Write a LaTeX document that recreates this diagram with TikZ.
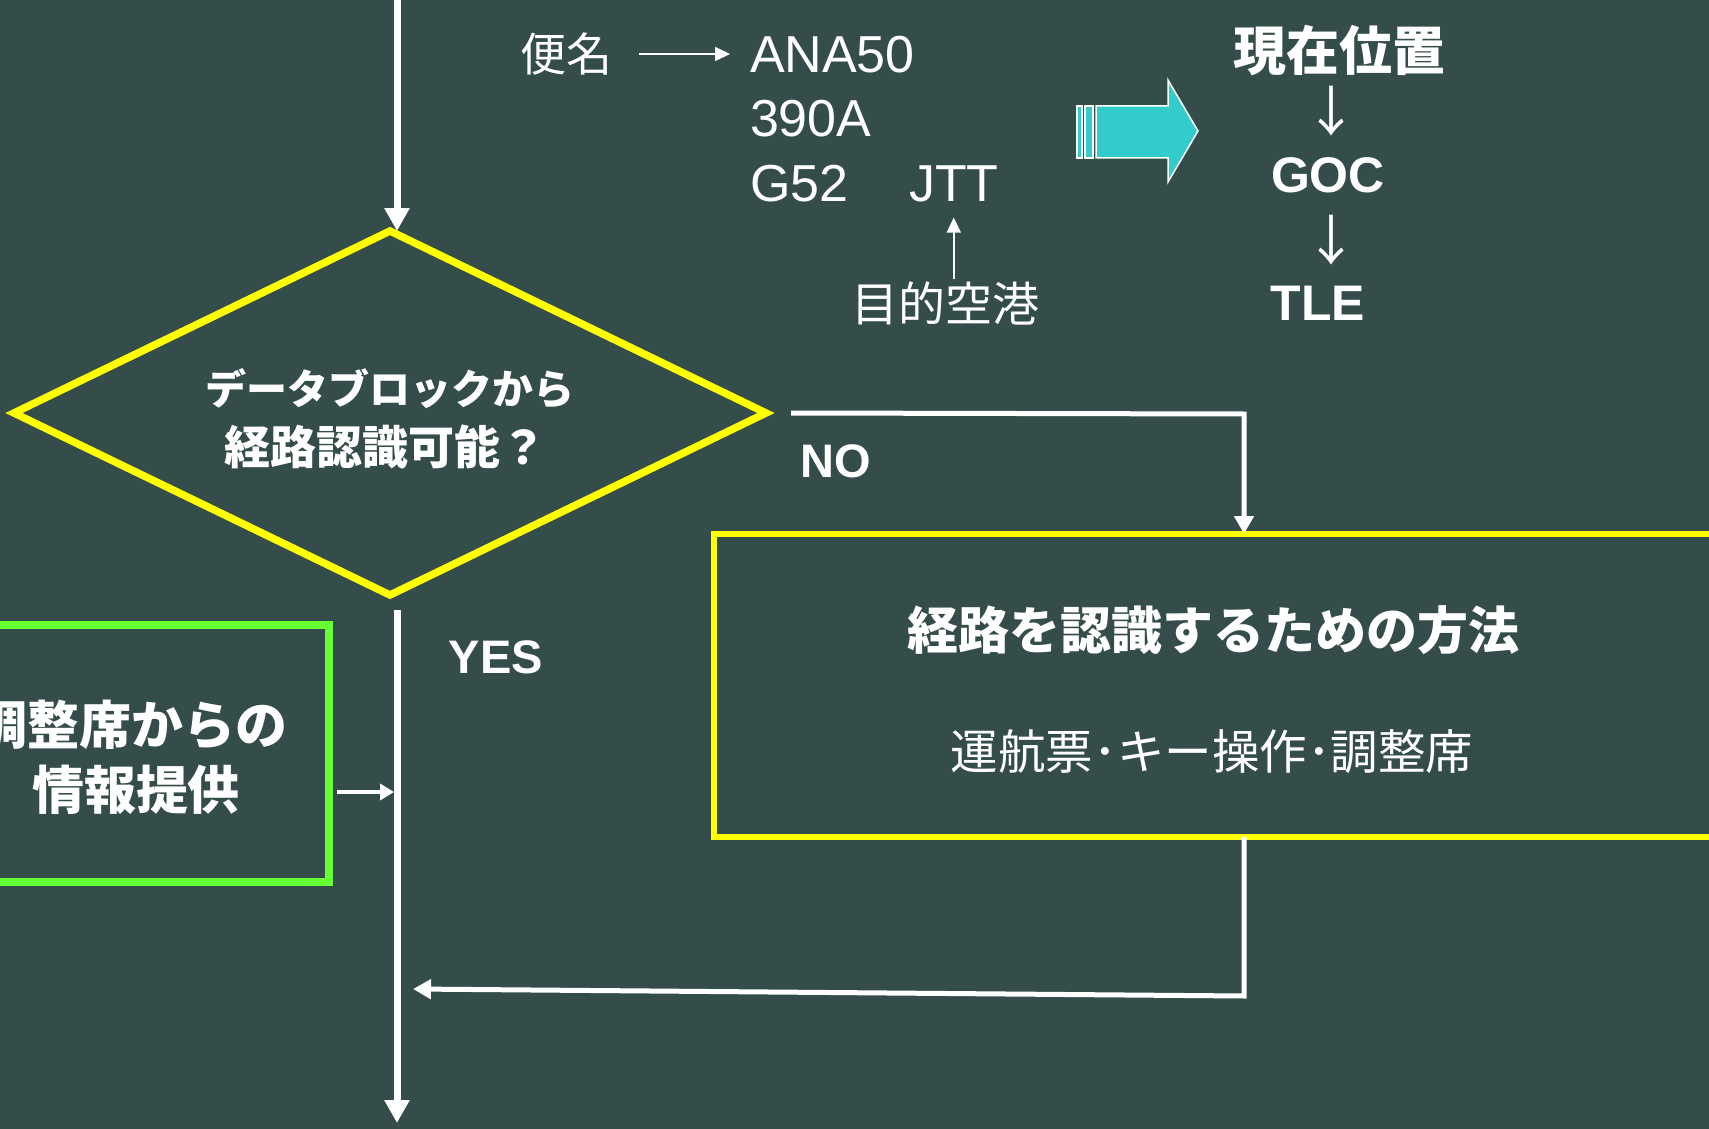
\documentclass[tikz,border=0pt]{standalone}
\usepackage{fontspec}
\setmainfont{Liberation Sans}
\newfontfamily\jp{Noto Sans CJK JP}
\usetikzlibrary{arrows.meta,shapes.geometric}
\definecolor{bg}{RGB}{52,77,74}
\definecolor{yel}{RGB}{255,255,0}
\definecolor{grn}{RGB}{102,255,51}
\definecolor{cyn}{RGB}{51,204,204}
\newcommand\fsz[1]{\fontsize{#1}{#1}\selectfont}
\begin{document}
\begin{tikzpicture}[x=1pt,y=-1pt,
  txt/.style={text=white,inner sep=0pt,outer sep=0pt},
  mainln/.style={draw=white,line width=7pt,-{Triangle[length=23pt,width=24pt]}},
  conn/.style={draw=white,line width=5pt,line join=miter,-{Triangle[length=18pt,width=19pt]}},
  gconn/.style={draw=white,line width=4pt,-{Triangle[length=14pt,width=16pt]}},
  thinarr/.style={draw=white,line width=1.6pt,-{Triangle[length=15pt,width=14pt]}},
  ybox/.style={draw=yel,line width=6.5pt,rectangle,inner sep=0pt,outer sep=0pt},
  gbox/.style={draw=grn,line width=8pt,rectangle,inner sep=0pt,outer sep=0pt},
  dia/.style={diamond,draw=yel,line width=7.5pt,inner sep=0pt,outer sep=0pt,aspect=2.07,minimum width=752pt,minimum height=364pt},
  blk/.style={fill=cyn,draw=white,line width=1.5pt}
]
\useasboundingbox (0,0) rectangle (1709,1129);
\fill[bg] (0,0) rectangle (1709,1129);
\clip (0,0) rectangle (1709,1129);

% decision
\node[dia] (dec) at (390,413) {};
\node[txt,font=\jp\bfseries\fsz{41}] (dt1) at (390,389) {データブロックから};
\node[txt,font=\jp\bfseries\fsz{46}] (dt2) at (385,447) {経路認識可能？};

% main line
\coordinate (top) at (397,0);
\draw[mainln] (top) -- (top |- dec.north);
\coordinate (ys) at (397,610);
\coordinate (bottom) at (397,1123);
\draw[mainln] (ys) -- (bottom);

% NO branch
\node[ybox,minimum width=1046pt,minimum height=303pt] (box) at (1237,685.5) {};
\node[txt,font=\jp\bfseries\fsz{51}] (bt1) at (1213,630) {経路を認識するための方法};
\node[txt,font=\jp\fsz{47.5}] (bt2) at (1212,752) {運航票･キー操作･調整席};
\coordinate (nos) at (791,413);
\coordinate (noc) at (1244,414);
\draw[conn] (nos) -- (noc) -- (noc |- box.north);
\node[txt,font=\bfseries\fsz{47},anchor=base] (no) at (836,477) {NO};

% return
\coordinate (rc) at (1244,996);
\coordinate (re) at (413,989);
\draw[conn] (noc |- box.south) -- (rc) -- (re);

% YES
\node[txt,font=\bfseries\fsz{47},anchor=base] (yes) at (496,673) {YES};

% green box
\node[gbox,minimum width=370pt,minimum height=257pt] (gb) at (144,753.5) {};
\node[txt,font=\jp\bfseries\fsz{52}] (gt1) at (132,725) {調整席からの};
\node[txt,font=\jp\bfseries\fsz{52}] (gt2) at (136,790) {情報提供};
\coordinate (gm) at (394,792);
\draw[gconn] (gb.east |- gm) ++(8,0) -- (gm);

% top texts
\node[txt,font=\jp\fsz{46}] (bin) at (566,54) {便名};
\node[txt,font=\fsz{52},anchor=base west] (ana) at (750,73) {ANA50};
\node[txt,font=\fsz{52},anchor=base west] (typ) at (750,137) {390A};
\node[txt,font=\fsz{52},anchor=base west] (rte) at (750,201) {G52};
\node[txt,font=\fsz{52},anchor=base west] (jtt) at (909,201) {JTT};
\draw[thinarr,shorten <=27pt,shorten >=20pt] (bin.east) -- (bin.east -| ana.west);
\node[txt,font=\jp\fsz{47}] (mok) at (945,303) {目的空港};
\draw[thinarr] ([yshift=2pt]mok.north -| jtt.south) -- ([yshift=-16pt]jtt.south);

% block arrow
\filldraw[blk] (1077,106) rectangle (1082,158);
\filldraw[blk] (1085,106) rectangle (1093,158);
\filldraw[blk] (1096,106) -- (1168,106) -- (1168,80) -- (1198,131) -- (1168,182) -- (1168,158) -- (1096,158) -- cycle;

% right column
\node[txt,font=\jp\bfseries\fsz{53}] (pos) at (1339,51) {現在位置};
\node[txt,font=\jp\fsz{54}] (ar1) at (1331,111) {↓};
\node[txt,font=\bfseries\fsz{50},anchor=base] (goc) at (1328,193) {GOC};
\node[txt,font=\jp\fsz{54}] (ar2) at (1331,240) {↓};
\node[txt,font=\bfseries\fsz{50},anchor=base] (tle) at (1318,320) {TLE};
\end{tikzpicture}
\end{document}
